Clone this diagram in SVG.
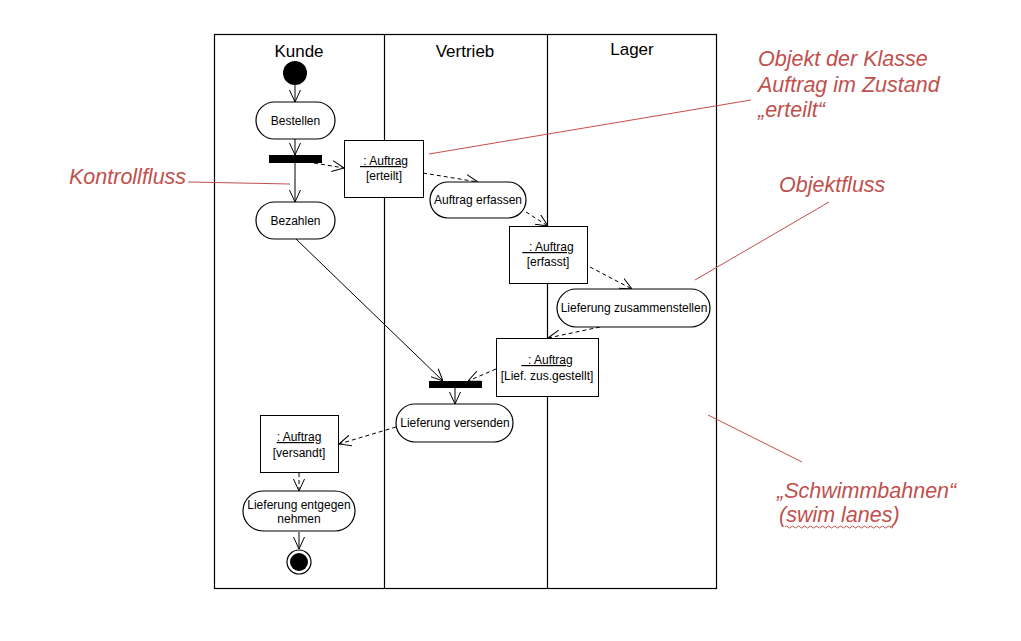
<svg xmlns="http://www.w3.org/2000/svg" width="1021" height="641" viewBox="0 0 1021 641">
<style>
.lane{fill:none;stroke:#000;stroke-width:1.2}
.title{font-family:"Liberation Sans",Arial,sans-serif;font-size:17px;text-anchor:middle;fill:#000}
.act{fill:#fff;stroke:#000;stroke-width:1.2}
.obj{fill:#fff;stroke:#000;stroke-width:1}
.t{font-family:"Liberation Sans",Arial,sans-serif;font-size:12px;text-anchor:middle;fill:#000}
.u{text-decoration:underline}
.bar{fill:#000}
.cf{fill:none;stroke:#000;stroke-width:1;marker-end:url(#ah)}
.of{fill:none;stroke:#000;stroke-width:1;stroke-dasharray:4 3;marker-end:url(#ah)}
.note{font-family:"Liberation Sans",Arial,sans-serif;font-size:21.5px;font-style:italic;fill:#c0504d}
.nl{fill:none;stroke:#c0504d;stroke-width:1}
</style>
<defs>
<marker id="ah" viewBox="0 0 12 12" refX="12" refY="6" markerWidth="12" markerHeight="12" markerUnits="userSpaceOnUse" orient="auto">
<path d="M0,0.5 L12,6 L0,11.5" fill="none" stroke="#000" stroke-width="1" stroke-dasharray="none"/>
</marker>
</defs>
<rect width="1021" height="641" fill="#fff"/>
<g id="lanes">
<rect class="lane" x="214.5" y="34.5" width="502" height="554"/>
<line class="lane" x1="384.5" y1="34.5" x2="384.5" y2="588.5"/>
<line class="lane" x1="547.5" y1="34.5" x2="547.5" y2="588.5"/>
<text class="title" x="299" y="57">Kunde</text>
<text class="title" x="465" y="57">Vertrieb</text>
<text class="title" x="632" y="55">Lager</text>
</g>
<g id="connectors">
<line class="cf" x1="295" y1="85" x2="295" y2="102"/>
<line class="cf" x1="295" y1="139" x2="295" y2="155"/>
<line class="cf" x1="295" y1="163" x2="295" y2="202"/>
<line class="of" x1="314" y1="163" x2="344" y2="168"/>
<line class="of" x1="423" y1="173" x2="478" y2="182"/>
<line class="of" x1="526" y1="212" x2="548" y2="226"/>
<line class="of" x1="590" y1="267" x2="632" y2="289"/>
<line class="of" x1="600" y1="327" x2="548" y2="338"/>
<line class="of" x1="496" y1="369" x2="468" y2="381"/>
<line class="cf" x1="296" y1="239" x2="443" y2="381"/>
<line class="cf" x1="455" y1="388" x2="455" y2="404"/>
<line class="of" x1="396" y1="427" x2="339" y2="444"/>
<line class="of" x1="299" y1="473" x2="299" y2="491"/>
<line class="cf" x1="299" y1="532" x2="299" y2="549"/>
</g>
<g id="start"><circle cx="295" cy="73" r="12" fill="#000"/></g>
<g id="bestellen">
<rect class="act" x="256" y="102" width="79" height="37" rx="18.5"/>
<text class="t" x="295.5" y="125">Bestellen</text>
</g>
<g id="fork"><rect class="bar" x="269" y="155" width="53" height="8"/></g>
<g id="bezahlen">
<rect class="act" x="256" y="202" width="79" height="37" rx="18.5"/>
<text class="t" x="295.5" y="225">Bezahlen</text>
</g>
<g id="obj-erteilt">
<rect class="obj" x="344.5" y="140.5" width="79" height="57"/>
<text class="t u" x="384" y="165" xml:space="preserve"> : Auftrag</text>
<text class="t" x="384" y="180">[erteilt]</text>
</g>
<g id="auftrag-erfassen">
<rect class="act" x="430" y="182" width="96" height="36" rx="18"/>
<text class="t" x="478" y="204">Auftrag erfassen</text>
</g>
<g id="obj-erfasst">
<rect class="obj" x="509.5" y="226.5" width="78" height="57"/>
<text class="t u" x="548" y="251" xml:space="preserve">  : Auftrag</text>
<text class="t" x="548" y="266">[erfasst]</text>
</g>
<g id="lieferung-zusammenstellen">
<rect class="act" x="557" y="289" width="153" height="38" rx="19"/>
<text class="t" x="634" y="312">Lieferung zusammenstellen</text>
</g>
<g id="obj-lief">
<rect class="obj" x="496.5" y="338.5" width="102" height="58"/>
<text class="t u" x="547" y="364" xml:space="preserve">  : Auftrag</text>
<text class="t" x="547" y="380">[Lief. zus.gestellt]</text>
</g>
<g id="join"><rect class="bar" x="429" y="381" width="53" height="7"/></g>
<g id="lieferung-versenden">
<rect class="act" x="396" y="404" width="117" height="38" rx="19"/>
<text class="t" x="455" y="427">Lieferung versenden</text>
</g>
<g id="obj-versandt">
<rect class="obj" x="260.5" y="415.5" width="78" height="57"/>
<text class="t u" x="299" y="441">: Auftrag</text>
<text class="t" x="299" y="457">[versandt]</text>
</g>
<g id="lieferung-entgegennehmen">
<rect class="act" x="243" y="491" width="112" height="40" rx="20"/>
<text class="t" x="299" y="509">Lieferung entgegen</text>
<text class="t" x="299" y="523">nehmen</text>
</g>
<g id="end">
<circle cx="299" cy="562" r="12" fill="#fff" stroke="#000" stroke-width="1.2"/>
<circle cx="299" cy="562" r="9" fill="#000"/>
</g>
<g id="annotations">
<text class="note" x="69" y="184">Kontrollfluss</text>
<line class="nl" x1="188" y1="182" x2="290" y2="184"/>
<text class="note" x="758" y="66">Objekt der Klasse</text>
<text class="note" x="758" y="92">Auftrag im Zustand</text>
<text class="note" x="758" y="117">„erteilt“</text>
<line class="nl" x1="751" y1="100" x2="429" y2="154"/>
<text class="note" x="779" y="192">Objektfluss</text>
<line class="nl" x1="829" y1="202" x2="695" y2="280"/>
<line class="nl" x1="708" y1="415" x2="802" y2="462"/>
<text class="note" x="777" y="498">„Schwimmbahnen“</text>
<text class="note" x="779" y="522">(swim lanes)</text>
<path class="nl" d="M785,527 q1.5,-2 3,0 t3,0 t3,0 t3,0 t3,0 t3,0 t3,0 t3,0 t3,0 t3,0 t3,0 t3,0 t3,0 t3,0 t3,0 t3,0 t3,0 t3,0 t3,0 t3,0 t3,0 t3,0 t3,0 t3,0 t3,0 t3,0 t3,0 t3,0 t3,0 t3,0 t3,0 t3,0 t3,0 t3,0 t3,0 t3,0" stroke-width="0.8"/>
</g>
</svg>
